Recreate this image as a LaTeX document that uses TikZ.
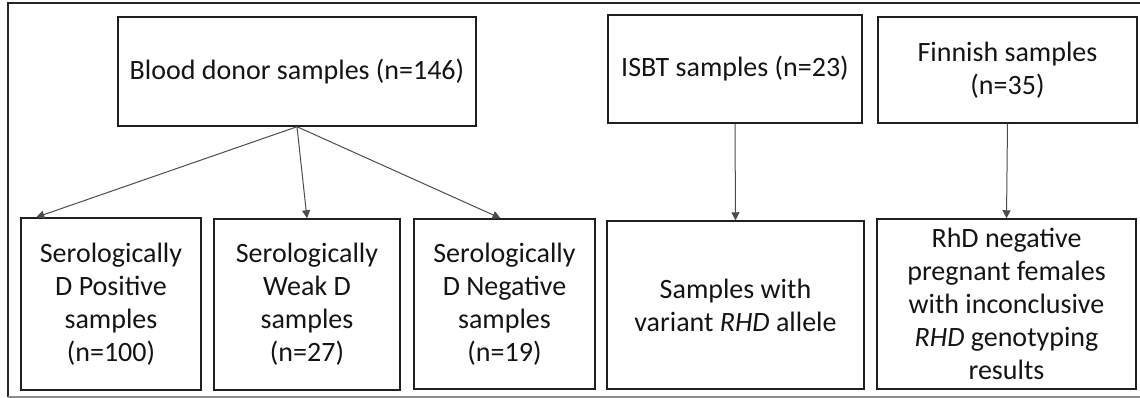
\documentclass[tikz,border=0pt]{standalone}
\usepackage{fontspec}
\setmainfont{Carlito}
\usetikzlibrary{arrows.meta}
\begin{document}
\begin{tikzpicture}[x=0.75pt,y=-0.75pt,
  box/.style={draw=black!88, line width=1.1pt, align=center, inner sep=0pt,
    font=\fontsize{21}{24.75}\selectfont, text=black!92},
  arr/.style={draw=black!70, line width=0.75pt,
    -{Triangle[length=6pt,width=6pt]}}]
\useasboundingbox (0,0) rectangle (1140,398);
% outer frame (open to the right)
\draw[black!85, line width=1.1pt] (1150,3) -- (8,3) -- (8,397);
\draw[black!45, line width=1.1pt] (8,397) -- (1150,397);
% source boxes
\node[box, minimum width=268.5pt, minimum height=81.75pt] (donor) at (297,71.5)
  {Blood donor samples (n=146)};
\node[box, minimum width=190.5pt, minimum height=81pt] (isbt) at (735,69)
  {ISBT samples (n=23)};
\node[box, minimum width=194.25pt, minimum height=79.5pt] (finn) at (1007.5,70)
  {Finnish samples\\(n=35)};
% sample groups
\node[box, minimum width=135pt, minimum height=129pt] (pos) at (111,304)
  {Serologically\\D Positive\\samples\\(n=100)};
\node[box, minimum width=139.5pt, minimum height=128.25pt] (weak) at (307,304.5)
  {Serologically\\Weak D\\samples\\(n=27)};
\node[box, minimum width=135.75pt, minimum height=127.5pt] (neg) at (504.5,304)
  {Serologically\\D Negative\\samples\\(n=19)};
\node[box, minimum width=192.75pt, minimum height=126pt] (var) at (735.5,305)
  {Samples with\\variant \textit{RHD} allele};
\node[box, minimum width=194.25pt, minimum height=127.5pt] (rhd) at (1006.5,304)
  {RhD negative\\pregnant females\\with inconclusive\\\textit{RHD} genotyping\\results};
% connectors
\draw[arr] (donor.south) -- ([xshift=12pt]pos.north west);
\draw[arr] (donor.south) -- (weak.north);
\draw[arr] (donor.south) -- ([xshift=-3pt]neg.north);
\draw[arr] (isbt.south) -- (var.north);
\draw[arr] (finn.south) -- (rhd.north);
\end{tikzpicture}
\end{document}
